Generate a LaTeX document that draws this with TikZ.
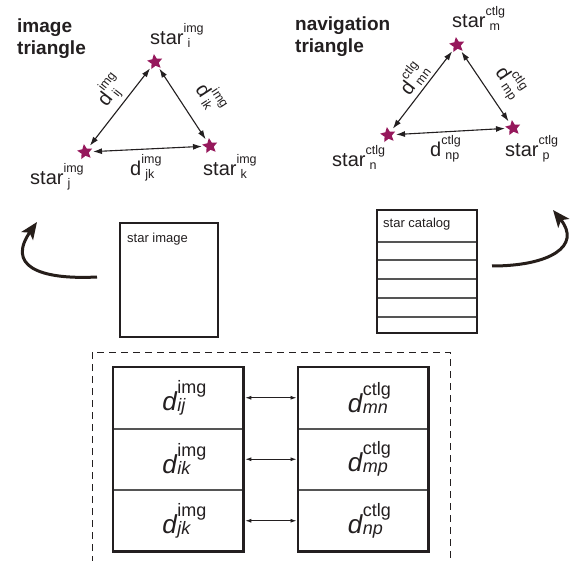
\documentclass[tikz,border=0pt]{standalone}
\usepackage{fontspec}
\setmainfont{Liberation Sans}
\usetikzlibrary{arrows.meta,shapes.geometric}

\definecolor{starcol}{RGB}{150,24,92}
\definecolor{inkcol}{RGB}{38,30,26}
\definecolor{textcol}{RGB}{35,31,32}
\definecolor{rulecol}{RGB}{85,85,85}

\newcommand{\fsz}[1]{\fontsize{#1}{#1}\selectfont}
% base text followed by a superscript and a subscript stacked on its right
% #1 base, #2 superscript, #3 subscript, #4 raise, #5 lower
\newcommand{\supsub}[5]{#1\begingroup
  \setbox0\hbox{#2}\setbox2\hbox{#3}%
  \dimen0=\wd0 \ifdim\wd2>\dimen0 \dimen0=\wd2 \fi
  \hbox to\dimen0{\rlap{\raise#4\box0}\rlap{\lower#5\box2}\hss}\endgroup}
% labels of the two triangles
\newcommand{\trilab}[3]{\fsz{20}\supsub{#1}{\fsz{12.5}#2}{\fsz{12.5}\kern4pt #3}{12pt}{3pt}}
% distances in the comparison tables
\newcommand{\tablab}[2]{\hspace*{12pt}\fsz{26}\supsub{\textit{d}}{\fsz{18}#1}{\fsz{18}\itshape #2}{17pt}{1pt}}

\tikzset{
  starnode/.style={star, star points=5, star point ratio=2.1, fill=starcol,
    draw=none, minimum size=16pt, inner sep=0pt, shape border rotate=8},
  tri arrow/.style={{Latex[length=9pt,width=6pt]}-{Latex[length=9pt,width=6pt]},
    line width=1.1pt, draw=textcol, shorten <=8pt, shorten >=8pt},
  lbl/.style={inner sep=0pt, text=textcol, anchor=base west},
  slbl/.style={inner sep=0pt, text=textcol, sloped},
  title/.style={inner sep=0pt, text=textcol, anchor=base west, font=\bfseries\fsz{19}},
  docbox/.style={draw=textcol, line width=2.6pt},
  rowline/.style={draw=rulecol, line width=1.2pt},
  curve arrow/.style={draw=inkcol, line width=3pt,
    -{Stealth[length=17pt,width=14pt,inset=4pt]}},
  cell/.style={draw=rulecol, line width=0.8pt, minimum width=130pt,
    minimum height=60.7pt, inner sep=0pt, anchor=north west, text=textcol},
  tablebox/.style={draw=textcol, line width=2.8pt},
  pair arrow/.style={{Latex[length=6pt,width=4pt]}-{Latex[length=6pt,width=4pt]},
    line width=0.9pt, draw=textcol, shorten <=1.5pt, shorten >=1.5pt},
  frame/.style={draw=textcol, line width=0.9pt, dash pattern=on 7pt off 5pt}
}

\begin{document}
\begin{tikzpicture}[x=1pt,y=-1pt]
\useasboundingbox (0,0) rectangle (570,561);
\fill[white] (0,0) rectangle (570,561);

% ---------- image triangle ----------
\node[title] (t1a) at (17,33) {image};
\node[title] (t1b) at (17,55) {triangle};

\node[starnode] (si) at (155,62) {};
\node[starnode] (sj) at (85,152) {};
\node[starnode] (sk) at (210,146) {};

\node[lbl] (li) at (150,45)  {\trilab{star}{img}{i}};
\node[lbl] (lj) at (30,185)  {\trilab{star}{img}{j}};
\node[lbl] (lk) at (203,176) {\trilab{star}{img}{k}};

\draw[tri arrow] (sj.center) -- node[slbl, pos=0.56, above=4pt] {\trilab{d}{img}{ij}} (si.center);
\draw[tri arrow] (si.center) -- node[slbl, pos=0.6, above=15pt] {\trilab{d}{img}{ik}} (sk.center);
\draw[tri arrow] (sj.center) -- (sk.center);
\node[lbl] (ljk) at (130,176) {\trilab{d}{img}{jk}};

% ---------- navigation triangle ----------
\node[title] (t2a) at (295,31) {navigation};
\node[title] (t2b) at (295,53) {triangle};

\node[starnode] (sm) at (457,45) {};
\node[starnode] (sn) at (388,135) {};
\node[starnode] (sp) at (513,128) {};

\node[lbl] (lm) at (452,28)  {\trilab{star}{ctlg}{m}};
\node[lbl] (ln) at (332,167) {\trilab{star}{ctlg}{n}};
\node[lbl] (lp) at (505,157) {\trilab{star}{ctlg}{p}};

\draw[tri arrow] (sn.center) -- node[slbl, pos=0.53, above=3pt] {\trilab{d}{ctlg}{mn}} (sm.center);
\draw[tri arrow] (sm.center) -- node[slbl, pos=0.6, above=10pt] {\trilab{d}{ctlg}{mp}} (sp.center);
\draw[tri arrow] (sn.center) -- (sp.center);
\node[lbl] (lnp) at (430,157) {\trilab{d}{ctlg}{np}};

% ---------- star image and star catalog ----------
\draw[docbox] (120,223) rectangle (218,337);
\node[lbl, font=\fsz{13}] (img) at (127,243) {star image};

\foreach \y in {242,260,279,298,317}
  \draw[rowline] (377,\y) -- (477,\y);
\draw[docbox] (377,210) rectangle (477,333);
\node[lbl, font=\fsz{13}] (cat) at (383,228) {star catalog};

\coordinate (la0) at (97,277);
\coordinate (la1) at (37,222);
\draw[curve arrow] (la0) .. controls (37,280) and (7,265) .. (la1);
\coordinate (ra0) at (492,266);
\coordinate (ra1) at (553,210);
\draw[curve arrow] (ra0) .. controls (550,266) and (582,246) .. (ra1);

% ---------- matching of distances ----------
\draw[frame] (92,575) -- (92,352) -- (450,352) -- (450,575);

\node[cell] (L1) at (113,367) {\tablab{img}{ij}};
\node[cell] (L2) at (L1.south west) {\tablab{img}{ik}};
\node[cell] (L3) at (L2.south west) {\tablab{img}{jk}};
\node[cell] (R1) at (298,367) {\tablab{ctlg}{mn}};
\node[cell] (R2) at (R1.south west) {\tablab{ctlg}{mp}};
\node[cell] (R3) at (R2.south west) {\tablab{ctlg}{np}};
\draw[tablebox] (L1.north west) rectangle (L3.south east);
\draw[tablebox] (R1.north west) rectangle (R3.south east);

\draw[pair arrow] (L1.east) -- (R1.west);
\draw[pair arrow] (L2.east) -- (R2.west);
\draw[pair arrow] (L3.east) -- (R3.west);
\end{tikzpicture}
\end{document}
